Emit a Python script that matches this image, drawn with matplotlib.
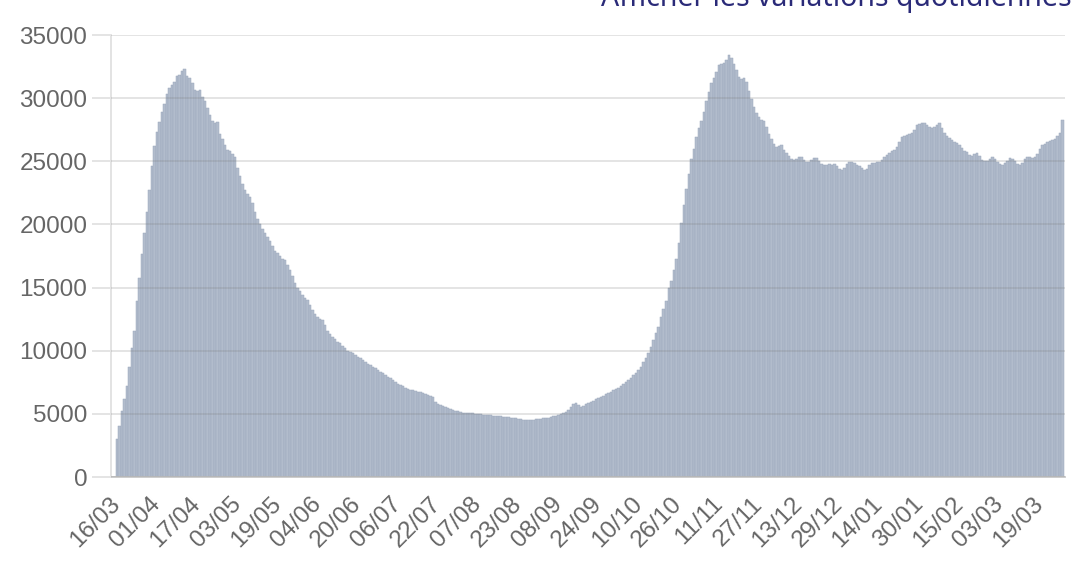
import numpy as np
import matplotlib
matplotlib.use('Agg')
import matplotlib.pyplot as plt


# daily hospitalisation counts
hosp = [
    2972, 4073, 5226, 6172, 7240, 8673, 10176, 11539, 13904, 15732,
    17620, 19354, 20946, 22757, 24639, 26246, 27302, 28142, 28891, 29569,
    30366, 30767, 31034, 31305, 31716, 31826, 32131, 32292, 31779, 31623,
    31160, 30639, 30584, 30610, 30106, 29741, 29219, 28658, 28217, 28055,
    28132, 27200, 26800, 26300, 25900, 25800, 25550, 25300, 24500, 23800,
    23200, 22700, 22400, 22200, 21700, 21000, 20400, 20000, 19600, 19300,
    19000, 18700, 18300, 17900, 17700, 17500, 17300, 17200, 16800, 16400,
    15900, 15400, 15000, 14700, 14400, 14200, 14000, 13600, 13200, 12900,
    12700, 12550, 12400, 12000, 11600, 11300, 11100, 10900, 10700, 10600,
    10400, 10200, 10000, 9900, 9800, 9650, 9500, 9400, 9250, 9100,
    8950, 8850, 8750, 8600, 8450, 8300, 8200, 8100, 7950, 7850,
    7700, 7550, 7400, 7300, 7200, 7050, 6950, 6900, 6850, 6800,
    6750, 6700, 6650, 6600, 6500, 6450, 6300, 5900, 5800, 5700,
    5600, 5550, 5450, 5350, 5300, 5250, 5200, 5150, 5100, 5100,
    5080, 5070, 5050, 5000, 4980, 4960, 4940, 4920, 4900, 4880,
    4860, 4850, 4830, 4800, 4780, 4750, 4720, 4690, 4670, 4640,
    4600, 4570, 4540, 4520, 4510, 4530, 4540, 4560, 4590, 4620,
    4650, 4680, 4710, 4750, 4800, 4860, 4920, 4990, 5080, 5150,
    5300, 5550, 5780, 5850, 5700, 5540, 5650, 5750, 5860, 5950,
    6050, 6150, 6260, 6350, 6450, 6550, 6650, 6750, 6850, 6950,
    7050, 7200, 7350, 7500, 7680, 7850, 8050, 8250, 8470, 8750,
    9100, 9450, 9820, 10300, 10850, 11400, 11900, 12700, 13300, 13900,
    15000, 15500, 16400, 17300, 18500, 20100, 21500, 22800, 24000, 25200,
    26000, 26900, 27600, 28200, 28900, 29800, 30500, 31200, 31600, 32100,
    32600, 32700, 32800, 33000, 33450, 33200, 32700, 32200, 31700, 31500,
    31600, 31300, 30600, 29900, 29300, 28850, 28500, 28300, 28200, 27700,
    27150, 26800, 26400, 26150, 26200, 26300, 25900, 25650, 25400, 25200,
    25100, 25200, 25350, 25350, 25100, 24950, 24950, 25100, 25250, 25250,
    25000, 24800, 24700, 24700, 24750, 24700, 24750, 24650, 24400, 24300,
    24500, 24800, 24950, 24950, 24850, 24700, 24600, 24450, 24300, 24350,
    24700, 24870, 24900, 24950, 24950, 25100, 25300, 25500, 25650, 25800,
    25900, 26100, 26500, 26900, 27000, 27100, 27200, 27250, 27500, 27880,
    27950, 28000, 28050, 27900, 27700, 27640, 27700, 27900, 28050, 27600,
    27240, 27000, 26850, 26700, 26550, 26450, 26300, 26050, 25850, 25700,
    25500, 25450, 25600, 25660, 25400, 25100, 25000, 25050, 25200, 25340,
    25200, 24950, 24750, 24710, 24850, 25050, 25260, 25200, 25000, 24800,
    24710, 24900, 25150, 25340, 25300, 25260, 25300, 25600, 26000, 26290,
    26400, 26500, 26600, 26690, 26800, 27000, 27240, 28300,
]

tick_labels = ['16/03', '01/04', '17/04', '03/05', '19/05', '04/06', '20/06', '06/07',
               '22/07', '07/08', '23/08', '08/09', '24/09', '10/10', '26/10', '11/11',
               '27/11', '13/12', '29/12', '14/01', '30/01', '15/02', '03/03', '19/03']
tick_step = 16  # days between two labels
y_ticks = [0, 5000, 10000, 15000, 20000, 25000, 30000, 35000]


fig = plt.figure(figsize=(10.8, 5.62), dpi=100)
ax = fig.add_axes([111/1080, 1-477/562, (1065-111)/1080, (477-35)/562])

days = np.arange(len(hosp))
ax.bar(days, hosp, width=1.0, color='#b2bccc', edgecolor='#9ca8bc', linewidth=0.35, zorder=1)

ax.set_xlim(-2.4, 378)
ax.set_ylim(0, 35000)

ax.set_yticks(y_ticks)
ax.set_yticklabels([str(v) for v in y_ticks])
ax.yaxis.grid(True, color='#7a7a7a', alpha=0.2, linewidth=1.4, zorder=3)
ax.set_axisbelow(False)

ax.set_xticks(np.arange(len(tick_labels)) * tick_step)
ax.set_xticklabels(tick_labels, rotation=45, ha='right', va='center', rotation_mode='anchor')

for lab in ax.get_xticklabels() + ax.get_yticklabels():
    lab.set_family('Liberation Sans')
    lab.set_fontsize(17.5)
    lab.set_color('#666666')

ax.tick_params(axis='y', length=14, width=1.4, color='#e4e4e4', pad=3)
ax.tick_params(axis='x', length=0, pad=17)

for s in ['top', 'right']:
    ax.spines[s].set_visible(False)
ax.spines['left'].set_color('#e0e0e0')
ax.spines['left'].set_linewidth(1.3)
ax.spines['bottom'].set_color('#c8c8c8')
ax.spines['bottom'].set_linewidth(1.3)

fig.text(1072/1080, 1-6/562, 'Afficher les variations quotidiennes', ha='right', va='baseline',
         family='Noto Sans', fontsize=20.5, color='#2a2a78')

fig.savefig('out.png', dpi=100)
